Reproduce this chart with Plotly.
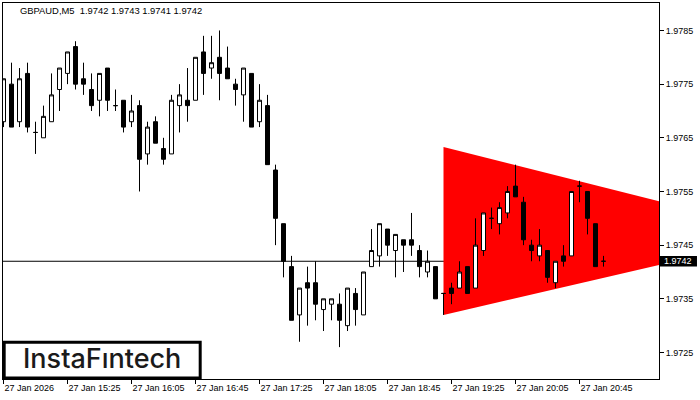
import plotly.graph_objects as go

symbol = "GBPAUD,M5"
bar_index = list(range(76))
opens = [1.9768, 1.9775, 1.9768, 1.9777, 1.9766, 1.9765, 1.9768, 1.9774, 1.9777, 1.9782,
         1.9776, 1.9774, 1.9772, 1.9778, 1.9771, 1.9772, 1.9768, 1.9771, 1.9762, 1.9768,
         1.9763, 1.9762, 1.9771, 1.9772, 1.9772, 1.9781, 1.9778, 1.9780, 1.9778, 1.9775,
         1.9773, 1.9777, 1.9768, 1.9771, 1.9759, 1.9749, 1.9741, 1.9732, 1.9738, 1.9738,
         1.9733, 1.9734, 1.9734, 1.9730, 1.9736, 1.9732, 1.9741, 1.9743, 1.9748, 1.9744,
         1.9746, 1.9746, 1.9744, 1.9740, 1.9741, 1.9736, 1.9737, 1.9737, 1.9741, 1.9737,
         1.9744, 1.9750, 1.9749, 1.9751, 1.9756, 1.9753, 1.9745, 1.9743, 1.9744, 1.9738,
         1.9743, 1.9743, 1.9756, 1.9755, 1.9749, 1.9742]
highs = [1.9776, 1.9779, 1.9778, 1.9779, 1.9768, 1.9771, 1.9777, 1.9778, 1.9781, 1.9783,
         1.9779, 1.9777, 1.9777, 1.9778, 1.9774, 1.9772, 1.9773, 1.9772, 1.9768, 1.9769,
         1.9765, 1.9773, 1.9775, 1.9778, 1.9780, 1.9784, 1.9784, 1.9785, 1.9782, 1.9776,
         1.9778, 1.9777, 1.9775, 1.9773, 1.9760, 1.9749, 1.9743, 1.9737, 1.9741, 1.9742,
         1.9735, 1.9735, 1.9736, 1.9737, 1.9737, 1.9740, 1.9748, 1.9749, 1.9748, 1.9747,
         1.9746, 1.9751, 1.9745, 1.9744, 1.9741, 1.9736, 1.9738, 1.9742, 1.9741, 1.9750,
         1.9751, 1.9752, 1.9753, 1.9756, 1.9760, 1.9754, 1.9746, 1.9748, 1.9744, 1.9742,
         1.9745, 1.9755, 1.9757, 1.9755, 1.9749, 1.9743]
lows = [1.9767, 1.9767, 1.9767, 1.9766, 1.9762, 1.9765, 1.9768, 1.9770, 1.9775, 1.9774,
        1.9773, 1.9770, 1.9769, 1.9770, 1.9770, 1.9766, 1.9767, 1.9755, 1.9760, 1.9764,
        1.9760, 1.9762, 1.9766, 1.9768, 1.9772, 1.9773, 1.9776, 1.9772, 1.9776, 1.9771,
        1.9768, 1.9767, 1.9767, 1.9760, 1.9745, 1.9739, 1.9731, 1.9727, 1.9730, 1.9731,
        1.9729, 1.9731, 1.9726, 1.9729, 1.9730, 1.9732, 1.9741, 1.9741, 1.9743, 1.9739,
        1.9740, 1.9743, 1.9739, 1.9739, 1.9735, 1.9732, 1.9734, 1.9737, 1.9736, 1.9737,
        1.9743, 1.9748, 1.9747, 1.9750, 1.9754, 1.9745, 1.9742, 1.9742, 1.9738, 1.9737,
        1.9741, 1.9743, 1.9753, 1.9747, 1.9741, 1.9741]
closes = [1.9776, 1.9767, 1.9776, 1.9767, 1.9766, 1.9769, 1.9773, 1.9778, 1.9781, 1.9775,
          1.9775, 1.9771, 1.9777, 1.9772, 1.9771, 1.9767, 1.9770, 1.9761, 1.9767, 1.9764,
          1.9761, 1.9772, 1.9773, 1.9771, 1.9780, 1.9777, 1.9779, 1.9777, 1.9776, 1.9774,
          1.9778, 1.9767, 1.9772, 1.9760, 1.9750, 1.9742, 1.9731, 1.9737, 1.9737, 1.9734,
          1.9735, 1.9735, 1.9731, 1.9737, 1.9733, 1.9740, 1.9744, 1.9749, 1.9745, 1.9747,
          1.9745, 1.9745, 1.9741, 1.9742, 1.9735, 1.9736, 1.9736, 1.9740, 1.9736, 1.9745,
          1.9751, 1.9750, 1.9752, 1.9755, 1.9754, 1.9746, 1.9744, 1.9745, 1.9739, 1.9742,
          1.9742, 1.9755, 1.9756, 1.9750, 1.9741, 1.9742]

tick_bars = [0, 8, 16, 24, 32, 40, 48, 56, 64, 72]
tick_labels = ["27 Jan 2026", "27 Jan 15:25", "27 Jan 16:05", "27 Jan 16:45", "27 Jan 17:25",
               "27 Jan 18:05", "27 Jan 18:45", "27 Jan 19:25", "27 Jan 20:05", "27 Jan 20:45"]
price_ticks = [1.9725, 1.9735, 1.9745, 1.9755, 1.9765, 1.9775, 1.9785]

# symmetrical triangle anchor points (bar index, price)
tri_bars = [55, 55, 98.4]
tri_prices = [1.97633, 1.97320, 1.97470]

X_RANGE = [-0.0625, 81.9375]
Y_RANGE = [1.972006, 1.979012]
FONT = "Liberation Sans, Arial, sans-serif"

fig = go.Figure()

fig.add_trace(go.Candlestick(
    x=bar_index, open=opens, high=highs, low=lows, close=closes,
    increasing=dict(line=dict(color="black", width=1), fillcolor="white"),
    decreasing=dict(line=dict(color="black", width=1), fillcolor="black"),
    whiskerwidth=0, showlegend=False))

# triangle pattern, drawn beneath the candles
tri_path = "M " + " L ".join(f"{b},{p}" for b, p in zip(tri_bars, tri_prices)) + " Z"
fig.add_shape(type="path", xref="x", yref="y", path=tri_path,
              fillcolor="#FF0000", line=dict(color="#FF0000", width=0), layer="below")

last = closes[-1]
fig.add_shape(type="line", xref="paper", yref="y", x0=0, x1=1, y0=last, y1=last,
              line=dict(color="black", width=1), layer="below")

fig.update_layout(
    width=700, height=400,
    margin=dict(l=3, r=41, t=3, b=21),
    paper_bgcolor="white", plot_bgcolor="white",
    boxgap=0.5, boxgroupgap=0,
    showlegend=False,
    font=dict(family=FONT, size=9, color="black"),
    xaxis=dict(
        range=X_RANGE, rangeslider=dict(visible=False),
        tickmode="array", tickvals=tick_bars, ticktext=tick_labels,
        ticks="outside", ticklen=4, tickwidth=1, tickcolor="black",
        ticklabelposition="outside right",
        showline=True, linecolor="black", linewidth=1, mirror=True,
        showgrid=False, zeroline=False,
        tickfont=dict(family=FONT, size=9, color="black"),
    ),
    yaxis=dict(
        range=Y_RANGE, side="right",
        tickmode="array", tickvals=price_ticks,
        ticktext=[f"{v:.4f}" for v in price_ticks],
        ticks="outside", ticklen=4, tickwidth=1, tickcolor="black",
        showline=True, linecolor="black", linewidth=1, mirror=True,
        showgrid=False, zeroline=False,
        tickfont=dict(family=FONT, size=9, color="black"),
    ),
)

header = f"{symbol}\u00a0 {opens[-1]:.4f} {highs[-1]:.4f} {lows[-1]:.4f} {closes[-1]:.4f}"
fig.add_annotation(text=header, xref="paper", yref="paper", x=0.0229, y=0.980,
                   xanchor="left", yanchor="middle", showarrow=False,
                   font=dict(family=FONT, size=9.4, color="black"))

# current price label
fig.add_shape(type="rect", xref="paper", yref="y", x0=1.0015, x1=1.0579,
              y0=last - 0.0001, y1=last + 0.0001,
              fillcolor="black", line=dict(width=0), layer="above")
fig.add_annotation(text=f"{last:.4f}", xref="paper", yref="y", x=1.0297, y=last,
                   xanchor="center", yanchor="middle", showarrow=False,
                   font=dict(family=FONT, size=9, color="white"))

# logo box
fig.add_shape(type="rect", xref="paper", yref="paper", x0=0.0018, x1=0.3006,
              y0=0.0027, y1=0.0979, fillcolor="white",
              line=dict(color="black", width=3), layer="above")
fig.add_annotation(text="InstaF\u0131ntech", xref="paper", yref="paper", x=0.1506, y=0.0532,
                   xanchor="center", yanchor="middle", showarrow=False,
                   font=dict(family="Inter, Lato, sans-serif", size=27, color="#1a1a1a", weight=500))

fig.write_html("out.html", config={"displayModeBar": False},
               post_script="document.body.style.margin='0';")
